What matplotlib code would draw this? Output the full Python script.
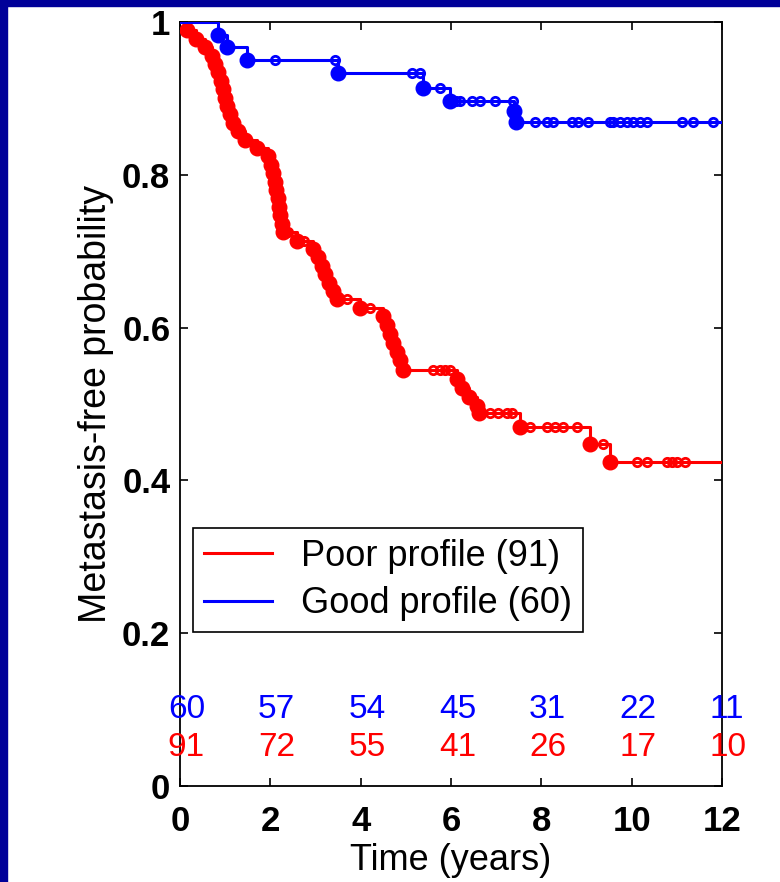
import numpy as np
import matplotlib
matplotlib.use('Agg')
import matplotlib.pyplot as plt
from matplotlib.patches import Rectangle

plt.rcParams['font.family'] = 'Liberation Sans'

# Kaplan-Meier steps (time in years, survival after the step)
poor_times = [0.00, 0.15, 0.35, 0.55, 0.70, 0.78, 0.85, 0.90, 0.95, 1.00, 1.05, 1.10,
              1.18, 1.28, 1.45, 1.70, 1.95, 2.02, 2.06, 2.10, 2.13, 2.16, 2.19, 2.22,
              2.25, 2.28, 2.60, 2.95, 3.05, 3.15, 3.22, 3.30, 3.38, 3.47, 3.98, 4.50,
              4.58, 4.65, 4.72, 4.80, 4.88, 4.94, 6.13, 6.25, 6.40, 6.57, 6.62, 7.53,
              9.08, 9.52]
poor_surv = [1.000, 0.989, 0.978, 0.967, 0.956, 0.945, 0.934, 0.923, 0.912, 0.901, 0.890, 0.879,
             0.868, 0.857, 0.846, 0.835, 0.824, 0.813, 0.802, 0.791, 0.780, 0.769, 0.758, 0.747,
             0.736, 0.725, 0.714, 0.703, 0.692, 0.681, 0.670, 0.659, 0.648, 0.637, 0.626, 0.615,
             0.603, 0.592, 0.580, 0.568, 0.557, 0.545, 0.533, 0.521, 0.509, 0.497, 0.488, 0.470,
             0.447, 0.424]
poor_censor = [2.40, 2.75, 3.70, 4.20, 5.60, 5.76, 5.87, 5.98, 6.86, 7.04, 7.24, 7.35,
               7.75, 8.12, 8.30, 8.48, 8.79, 9.37, 10.12, 10.34, 10.78, 10.89, 11.00, 11.18]

good_times = [0.00, 0.84, 1.04, 1.48, 3.50, 5.38, 5.98, 7.40, 7.44]
good_surv = [1.000, 0.983, 0.967, 0.950, 0.933, 0.914, 0.896, 0.883, 0.869]
good_censor = [2.10, 3.43, 5.14, 5.31, 5.76, 6.10, 6.20, 6.46, 6.64, 6.97, 7.38,
               7.86, 8.12, 8.26, 8.68, 8.81, 9.03, 9.52, 9.59, 9.74, 9.90, 10.03,
               10.18, 10.34, 11.11, 11.36, 11.80]

# numbers at risk
risk_times = [0, 2, 4, 6, 8, 10, 12]
good_risk = [60, 57, 54, 45, 31, 22, 11]
poor_risk = [91, 72, 55, 41, 26, 17, 10]

navy = '#000099'


def surv_at(times, surv, t):
    i = np.searchsorted(times, t, side='right') - 1
    return np.array(surv)[i]


fig = plt.figure(figsize=(7.8, 8.82), dpi=100, facecolor='white')
# slide border strips
fig.patches.append(Rectangle((0, 0), 7 / 780, 1, transform=fig.transFigure, color=navy, zorder=0))
fig.patches.append(Rectangle((0, 1 - 6 / 882), 1, 6 / 882, transform=fig.transFigure, color=navy, zorder=0))

ax = fig.add_axes([180 / 780, 1 - 786 / 882, 542 / 780, 764 / 882])

for times, surv, cens, col, lab in [
        (poor_times, poor_surv, poor_censor, 'red', 'Poor profile (91)'),
        (good_times, good_surv, good_censor, 'blue', 'Good profile (60)')]:
    t_ext = list(times) + [12]
    s_ext = list(surv) + [surv[-1]]
    ax.step(t_ext, s_ext, where='post', color=col, lw=2.2, label=lab, zorder=3)
    # markers at events (blobs) and censored times (small rings)
    ax.plot(times[1:], surv[1:], 'o', ms=10.5, mfc=col, mec=col, mew=1, zorder=3)
    ax.plot(cens, surv_at(times, surv, cens), 'o', ms=6, mfc='none', mec=col, mew=2, zorder=3)

for t, g, p in zip(risk_times, good_risk, poor_risk):
    ax.text(t - 0.27, 0.1, str(g), color='blue', fontsize=24, ha='left', va='center')
    ax.text(t - 0.27, 0.05, str(p), color='red', fontsize=24, ha='left', va='center')

ax.set_xlim(0, 12)
ax.set_ylim(0, 1)
ax.set_xticks(risk_times)
ax.set_yticks([0, 0.2, 0.4, 0.6, 0.8, 1])
ax.set_yticklabels(['0', '0.2', '0.4', '0.6', '0.8', '1'])
ax.tick_params(direction='in', top=True, right=True, length=6, width=1.2, labelsize=25)
ax.tick_params(axis='x', pad=14)
ax.tick_params(axis='y', pad=7)
for lbl in ax.get_xticklabels() + ax.get_yticklabels():
    lbl.set_fontweight('bold')
for s in ax.spines.values():
    s.set_linewidth(1.3)

ax.set_xlabel('Time (years)', fontsize=26, labelpad=3)
ax.set_ylabel('Metastasis-free probability', fontsize=27, labelpad=6)

leg = ax.legend(loc='upper left', bbox_to_anchor=(0.024, 0.338), fontsize=26,
                frameon=True, fancybox=False, edgecolor='black', framealpha=1,
                handlelength=1.9, handletextpad=0.8, labelspacing=0.35,
                borderpad=0.3, borderaxespad=0)
leg.get_frame().set_linewidth(1.2)

fig.savefig('out.png', dpi=100, facecolor='white')
